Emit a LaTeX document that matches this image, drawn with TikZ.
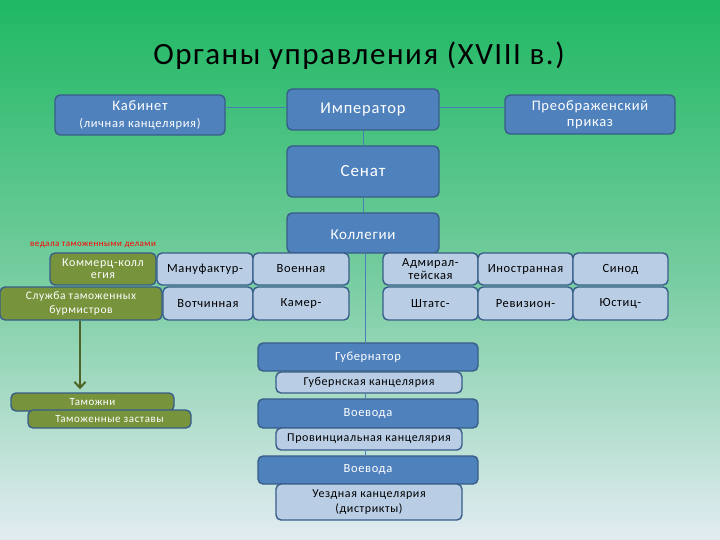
\documentclass[tikz,border=0pt]{standalone}
\usepackage{fontspec}
\setmainfont{Carlito}[LetterSpace=5]
\usetikzlibrary{arrows.meta}
\definecolor{bfill}{HTML}{4F81BD}
\definecolor{bdraw}{HTML}{385D8A}
\definecolor{lfill}{HTML}{B9CDE5}
\definecolor{gfill}{HTML}{77933C}
\definecolor{garrow}{HTML}{4F6228}
\definecolor{bgtop}{HTML}{1FB863}
\definecolor{bgmid}{HTML}{74CC9E}
\definecolor{bgbot}{HTML}{E2ECF2}
\definecolor{lnk}{HTML}{4A7EBB}
\pgfdeclarelayer{bg}
\pgfdeclarelayer{lines}
\pgfsetlayers{bg,lines,main}
\newcommand{\fs}[1]{\fontsize{#1}{#1}\selectfont}
\tikzset{
  box/.style={draw=bdraw, line width=1.4pt, rounded corners=5pt, inner sep=1pt, align=center},
  bluebox/.style={box, fill=bfill, text=white},
  lightbox/.style={box, fill=lfill, text=black},
  greenbox/.style={box, fill=gfill, text=white},
  conn/.style={draw=lnk, line width=0.8pt},
  arr/.style={draw=garrow, line width=2pt, -{Straight Barb[length=6pt,width=11pt,line width=2pt]}},
}
\begin{document}
\begin{tikzpicture}[x=1pt,y=-1pt]
\begin{pgfonlayer}{bg}
\shade[top color=bgtop, bottom color=bgbot, middle color=bgmid] (0,0) rectangle (720,540);
\end{pgfonlayer}
\useasboundingbox (0,0) rectangle (720,540);

\node[font=\fs{31}] (title) at (359,56) {Органы управления (XVIII в.)};

\node[bluebox, minimum width=170, minimum height=40, font=\fontsize{14.5}{17}\selectfont] (kab) at (140,115)
  {Кабинет\\{\fs{12.5}(личная канцелярия)}};
\node[bluebox, minimum width=152, minimum height=41, font=\fs{16.5}] (imp) at (363,109.5)
  {Император};
\node[bluebox, minimum width=170, minimum height=39, font=\fontsize{14.5}{16}\selectfont] (preo) at (590,114.5)
  {Преображенский\\приказ};
\node[bluebox, minimum width=152, minimum height=51, font=\fs{17}] (sen) at (363,171.5)
  {Сенат};
\node[bluebox, minimum width=152, minimum height=40, font=\fs{15}] (kol) at (363,233)
  {\raisebox{-6.5pt}[0pt][0pt]{Коллегии}};

\node[text=red, anchor=west, inner sep=0, font=\fs{9}] (ved) at (30,245) {ведала таможенными делами};

% left grid
\node[greenbox, minimum width=106, minimum height=32, font=\fontsize{12}{12}\selectfont] (kom) at (103,269)
  {Коммерц-колл\\егия};
\node[lightbox, minimum width=96, minimum height=32, font=\fs{12.5}] (man) at (205,269)
  {Мануфактур-};
\node[lightbox, minimum width=96, minimum height=32, font=\fs{12.5}] (voen) at (301,269)
  {Военная};
\node[greenbox, minimum width=162, minimum height=33, font=\fontsize{11.5}{13.5}\selectfont] (slu) at (81,303.5)
  {Служба таможенных\\бурмистров};
\node[lightbox, minimum width=90, minimum height=33, font=\fs{12.5}] (vot) at (208,303.5)
  {Вотчинная};
\node[lightbox, minimum width=96, minimum height=33, font=\fs{12.5}] (kam) at (301,303.5)
  {Камер-};

% right grid
\node[lightbox, minimum width=95, minimum height=32, font=\fontsize{12.5}{12.5}\selectfont] (adm) at (430.5,269)
  {Адмирал-\\тейская};
\node[lightbox, minimum width=95, minimum height=32, font=\fs{12.5}] (ino) at (525.5,269)
  {Иностранная};
\node[lightbox, minimum width=95, minimum height=32, font=\fs{12.5}] (sin) at (620.5,269)
  {Синод};
\node[lightbox, minimum width=95, minimum height=33, font=\fs{12.5}] (sht) at (430.5,303.5)
  {Штатс-};
\node[lightbox, minimum width=95, minimum height=33, font=\fs{12.5}] (rev) at (525.5,303.5)
  {Ревизион-};
\node[lightbox, minimum width=95, minimum height=33, font=\fs{12.5}] (yus) at (620.5,303.5)
  {Юстиц-};

% customs
\node[greenbox, minimum width=163, minimum height=18, font=\fs{11}] (tam) at (92.5,402)
  {Таможни};
\node[greenbox, minimum width=163, minimum height=18, font=\fs{11}] (zas) at (109.5,419)
  {Таможенные заставы};

% local
\node[bluebox, minimum width=220, minimum height=28, font=\fs{12.5}] (gub) at (368,357)
  {Губернатор};
\node[lightbox, minimum width=186, minimum height=21, font=\fs{12}] (gubk) at (369,382.5)
  {Губернская канцелярия};
\node[bluebox, minimum width=220, minimum height=29, font=\fs{12.5}] (voe1) at (368,413.5)
  {Воевода};
\node[lightbox, minimum width=186, minimum height=22, font=\fs{12}] (prov) at (369,439)
  {Провинциальная канцелярия};
\node[bluebox, minimum width=220, minimum height=28, font=\fs{12.5}] (voe2) at (368,470)
  {Воевода};
\node[lightbox, minimum width=186, minimum height=36, font=\fontsize{12}{15}\selectfont] (uez) at (369,502)
  {Уездная канцелярия\\(дистрикты)};

\begin{pgfonlayer}{lines}
\draw[conn] ([yshift=2.5pt]imp.west) -- ([yshift=2.5pt]imp.west -| kab.east);
\draw[conn] ([yshift=2.5pt]imp.east) -- ([yshift=2.5pt]imp.east -| preo.west);
\draw[conn] (imp.south) -- (sen.north);
\draw[conn] (sen.south) -- (kol.north);
\draw[conn] ([xshift=2pt]kol.south) -- ([xshift=2pt]kol.south |- gub.north);
\draw[conn] ([xshift=-4pt]gubk.south) -- ([xshift=-4pt]gubk.south |- voe1.north);
\draw[conn] ([xshift=-4pt]prov.south) -- ([xshift=-4pt]prov.south |- voe2.north);
\end{pgfonlayer}
\draw[arr, shorten >=3pt] ([xshift=-1pt]slu.south) -- ([xshift=-1pt]slu.south |- tam.north);
\end{tikzpicture}
\end{document}
